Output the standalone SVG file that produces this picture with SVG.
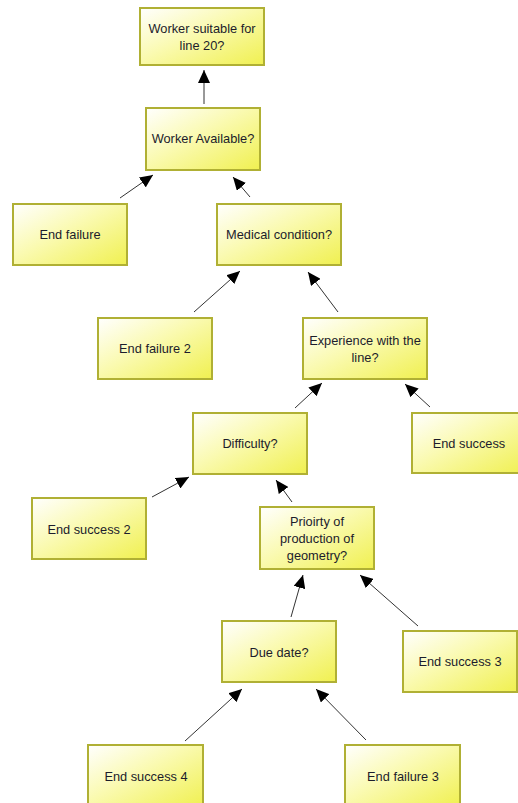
<svg xmlns="http://www.w3.org/2000/svg" width="518" height="803" viewBox="0 0 518 803">
  <defs>
    <linearGradient id="boxFill" x1="0" y1="0" x2="1" y2="1">
      <stop offset="0" stop-color="#ffffff"/>
      <stop offset="0.45" stop-color="#fafab0"/>
      <stop offset="1" stop-color="#f0f050"/>
    </linearGradient>
    <marker id="arrow" markerUnits="userSpaceOnUse" markerWidth="14" markerHeight="12" refX="13" refY="6" orient="auto">
      <path d="M0,0 L13,6 L0,12 Z" fill="#000"/>
    </marker>
    <style>
      .box { fill: url(#boxFill); stroke: #b0b034; stroke-width: 2; }
      .lbl { font-family: "Liberation Sans", Arial, sans-serif; font-size: 12.8px; fill: #1c1c2c; text-anchor: middle; }
      .edge { stroke: #333; stroke-width: 1; fill: none; marker-end: url(#arrow); }
    </style>
  </defs>
  <rect width="518" height="803" fill="#fff"/>

  <g id="connectors">
    <line class="edge" x1="204" y1="104" x2="204" y2="70"/>
    <line class="edge" x1="120" y1="198" x2="153" y2="175"/>
    <line class="edge" x1="250" y1="197" x2="233" y2="177"/>
    <line class="edge" x1="194" y1="312" x2="240" y2="271"/>
    <line class="edge" x1="338" y1="312" x2="308" y2="272"/>
    <line class="edge" x1="295" y1="408" x2="322" y2="383"/>
    <line class="edge" x1="430" y1="407" x2="405" y2="384"/>
    <line class="edge" x1="152" y1="497" x2="189" y2="477"/>
    <line class="edge" x1="292" y1="502" x2="276" y2="480"/>
    <line class="edge" x1="291" y1="617" x2="303" y2="575"/>
    <line class="edge" x1="418" y1="626" x2="360" y2="575"/>
    <line class="edge" x1="185" y1="741" x2="242" y2="689"/>
    <line class="edge" x1="366" y1="740" x2="316" y2="689"/>
  </g>

  <g id="worker-suitable">
    <rect class="box" x="140" y="8" width="124" height="57"/>
    <text class="lbl" x="202" y="33">Worker suitable for</text>
    <text class="lbl" x="202" y="50">line 20?</text>
  </g>
  <g id="worker-available">
    <rect class="box" x="146" y="108" width="114" height="62"/>
    <text class="lbl" x="203" y="143">Worker Available?</text>
  </g>
  <g id="end-failure">
    <rect class="box" x="13" y="204" width="114" height="61"/>
    <text class="lbl" x="70" y="239">End failure</text>
  </g>
  <g id="medical-condition">
    <rect class="box" x="217" y="204" width="124" height="61"/>
    <text class="lbl" x="279" y="239">Medical condition?</text>
  </g>
  <g id="end-failure-2">
    <rect class="box" x="98" y="318" width="114" height="61"/>
    <text class="lbl" x="155" y="353">End failure 2</text>
  </g>
  <g id="experience">
    <rect class="box" x="303" y="318" width="124" height="61"/>
    <text class="lbl" x="365" y="345">Experience with the</text>
    <text class="lbl" x="365" y="362">line?</text>
  </g>
  <g id="difficulty">
    <rect class="box" x="193" y="413" width="114" height="61"/>
    <text class="lbl" x="250" y="448">Difficulty?</text>
  </g>
  <g id="end-success">
    <rect class="box" x="412" y="413" width="114" height="60"/>
    <text class="lbl" x="469" y="448">End success</text>
  </g>
  <g id="end-success-2">
    <rect class="box" x="32" y="498" width="114" height="61"/>
    <text class="lbl" x="89" y="534">End success 2</text>
  </g>
  <g id="priority">
    <rect class="box" x="260" y="507" width="114" height="62"/>
    <text class="lbl" x="317" y="526">Prioirty of</text>
    <text class="lbl" x="317" y="543">production of</text>
    <text class="lbl" x="317" y="560">geometry?</text>
  </g>
  <g id="due-date">
    <rect class="box" x="222" y="621" width="114" height="61"/>
    <text class="lbl" x="279" y="657">Due date?</text>
  </g>
  <g id="end-success-3">
    <rect class="box" x="403" y="631" width="114" height="61"/>
    <text class="lbl" x="460" y="666">End success 3</text>
  </g>
  <g id="end-success-4">
    <rect class="box" x="88" y="745" width="115" height="62"/>
    <text class="lbl" x="146" y="781">End success 4</text>
  </g>
  <g id="end-failure-3">
    <rect class="box" x="345" y="745" width="115" height="62"/>
    <text class="lbl" x="403" y="781">End failure 3</text>
  </g>
</svg>
